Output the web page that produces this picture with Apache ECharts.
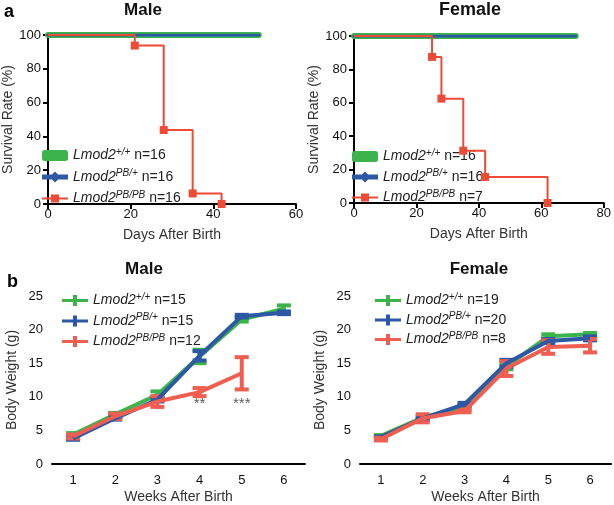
<!DOCTYPE html>
<html>
<head>
<meta charset="utf-8">
<script src="https://cdn.jsdelivr.net/npm/echarts@6/dist/echarts.min.js"></script>
<style>
html,body{margin:0;padding:0;background:#fff;}
#main{width:614px;height:505px;}
</style>
</head>
<body>
<div id="main"></div>
<script>
// survival (days, percent)
var maleDays = [0, 21, 28, 35, 42];
var maleKO = [100, 93.75, 43.75, 6.25, 0];
var maleCtrlEnd = 51;
var femaleDays = [0, 25, 28, 35, 42, 62];
var femaleKO = [100, 87.5, 62.5, 31.3, 15.6, 0];
var femaleCtrlEnd = 71;

// body weight (g), mean and error
var weeks = ['1', '2', '3', '4', '5', '6'];
var mWT = [4.4, 7.4, 10.3, 16.0, 21.5, 23.1];
var mWTerr = [0.2, 0.2, 0.5, 1.0, 0.3, 0.5];
var mHet = [3.8, 6.8, 9.6, 16.1, 22.0, 22.5];
var mHetErr = [0.2, 0.2, 0.3, 0.7, 0.2, 0.2];
var mKO = [4.1, 7.1, 9.3, 10.7, 13.5];
var mKOerr = [0.3, 0.4, 0.8, 0.6, 2.4];
var fWT = [4.2, 6.9, 8.6, 14.5, 19.0, 19.3];
var fWTerr = [0.1, 0.2, 0.2, 0.4, 0.3, 0.2];
var fHet = [4.0, 6.8, 8.9, 15.0, 18.3, 18.7];
var fHetErr = [0.1, 0.2, 0.2, 0.5, 0.3, 0.3];
var fKO = [3.7, 6.8, 7.9, 14.2, 17.4, 17.6];
var fKOerr = [0.2, 0.6, 0.2, 1.1, 1.0, 1.0];

var stars = [{week: 3, y: 8.9, text: '**'}, {week: 4, y: 8.9, text: '***'}];

var GREEN = '#3cb44b', BLUE = '#2c58a5', RED = '#ee4b36', RED2 = '#ef5e51';
var FONT = 'Liberation Sans';

var labels = {
  aM1: ['+/+', '16'], aM2: ['PB/+', '16'], aM3: ['PB/PB', '16'],
  aF1: ['+/+', '16'], aF2: ['PB/+', '16'], aF3: ['PB/PB', '7'],
  bM1: ['+/+', '15'], bM2: ['PB/+', '15'], bM3: ['PB/PB', '12'],
  bF1: ['+/+', '19'], bF2: ['PB/+', '20'], bF3: ['PB/PB', '8']
};

var iconCross = 'path://M0,4H11V0H15V4H26V7H15V11H11V7H0Z';
var iconTri = 'path://M0,3H10L13,0L16,3H26V8H16L13,11L10,8H0Z';
var iconSq = 'path://M0,4.5H9V1.5H17V4.5H26V6.5H17V9.5H9V6.5H0Z';

function legendFor(prefix, left, top, gap, survival) {
  return {
    orient: 'vertical', left: left, top: top, itemGap: gap,
    itemWidth: 26, itemHeight: 11, selectedMode: false, padding: 0,
    data: [
      {name: prefix + '1', icon: survival ? 'roundRect' : iconCross, itemStyle: {color: GREEN}},
      {name: prefix + '2', icon: survival ? iconTri : iconCross, itemStyle: {color: BLUE}},
      {name: prefix + '3', icon: survival ? iconSq : iconCross, itemStyle: {color: survival ? RED : RED2}}
    ],
    formatter: function (n) {
      return '{i|Lmod2}{s|' + labels[n][0] + '}{n| n=' + labels[n][1] + '}';
    },
    textStyle: {
      color: '#222', fontFamily: FONT, fontSize: 14,
      rich: {
        i: {fontStyle: 'italic', fontSize: 14, lineHeight: 16, fontFamily: FONT, color: '#222'},
        s: {fontStyle: 'italic', fontSize: 10, fontFamily: FONT, color: '#222', padding: [0, 0, 7, 0]},
        n: {fontSize: 14, lineHeight: 16, fontFamily: FONT, color: '#222'}
      }
    }
  };
}

function axisBase(extra, margin) {
  var a = {
    axisLine: {lineStyle: {color: '#000', width: 2}},
    axisTick: {length: 5, lineStyle: {color: '#000', width: 2}},
    axisLabel: {color: '#111', fontSize: 13, fontFamily: FONT, margin: margin},
    splitLine: {show: false},
    nameLocation: 'middle',
    nameTextStyle: {color: '#333', fontSize: 14, fontFamily: FONT}
  };
  for (var k in extra) a[k] = extra[k];
  return a;
}

function pairs(xs, ys) { return xs.map(function (x, i) { return [x, ys[i]]; }); }

function ebData(m, e) { return m.map(function (v, i) { return [i, v, e[i]]; }); }

function errSeries(name, idx, m, e, color) {
  return {
    name: name, type: 'custom', xAxisIndex: idx, yAxisIndex: idx, z: 3,
    data: ebData(m, e),
    renderItem: function (params, api) {
      var x = api.value(0), v = api.value(1), er = api.value(2);
      var hi = api.coord([x, v + er]), lo = api.coord([x, v - er]);
      var w = 7;
      var st = {stroke: color, lineWidth: 4, fill: null};
      return {type: 'group', children: [
        {type: 'line', shape: {x1: hi[0], y1: hi[1], x2: lo[0], y2: lo[1]}, style: st},
        {type: 'line', shape: {x1: hi[0] - w, y1: hi[1], x2: hi[0] + w, y2: hi[1]}, style: st},
        {type: 'line', shape: {x1: lo[0] - w, y1: lo[1], x2: lo[0] + w, y2: lo[1]}, style: st}
      ]};
    }
  };
}

function lineSeries(name, idx, m, color, z) {
  return {name: name, type: 'line', xAxisIndex: idx, yAxisIndex: idx, data: m, z: z,
    symbol: 'none', lineStyle: {color: color, width: 4}, itemStyle: {color: color}};
}

function survKO(name, idx, xs, ys) {
  var d = pairs(xs, ys).map(function (p, i) {
    return i === 0 ? {value: p, symbol: 'none'} : {value: p};
  });
  return {name: name, type: 'line', step: 'end', xAxisIndex: idx, yAxisIndex: idx, data: d, z: 4,
    symbol: 'rect', symbolSize: 8, lineStyle: {color: RED, width: 2}, itemStyle: {color: RED}};
}

function survCtrl(name, idx, end, color, width, z) {
  return {name: name, type: 'line', xAxisIndex: idx, yAxisIndex: idx, data: [[0, 100], [end, 100]], z: z,
    symbol: 'none', lineStyle: {color: color, width: width, cap: 'round'}, itemStyle: {color: color}};
}

var weekTick = {alignWithLabel: true, length: 7, lineStyle: {color: '#000', width: 2}};

var chart = echarts.init(document.getElementById('main'));
chart.setOption({
  animation: false,
  backgroundColor: '#fff',
  textStyle: {fontFamily: FONT},
  grid: [
    {left: 44, top: 35, width: 252, height: 169},
    {left: 354, top: 36, width: 251, height: 167},
    {left: 52, top: 296, width: 253, height: 170},
    {left: 360, top: 296, width: 251, height: 169}
  ],
  xAxis: [
    axisBase({gridIndex: 0, type: 'value', min: 0, max: 60, interval: 20, name: 'Days After Birth', nameGap: 24}, 4),
    axisBase({gridIndex: 1, type: 'value', min: 0, max: 80, interval: 20, name: 'Days After Birth', nameGap: 24}, 4),
    axisBase({gridIndex: 2, type: 'category', data: weeks, boundaryGap: true, name: 'Weeks After Birth', nameGap: 26, axisTick: weekTick}, 10),
    axisBase({gridIndex: 3, type: 'category', data: weeks, boundaryGap: true, name: 'Weeks After Birth', nameGap: 26, axisTick: weekTick}, 10)
  ],
  yAxis: [
    axisBase({gridIndex: 0, type: 'value', min: 0, max: 100, interval: 20, name: 'Survival Rate (%)', nameGap: 33}, 7),
    axisBase({gridIndex: 1, type: 'value', min: 0, max: 100, interval: 20, name: 'Survival Rate (%)', nameGap: 33}, 7),
    axisBase({gridIndex: 2, type: 'value', min: 0, max: 25, interval: 5, name: 'Body Weight (g)', nameGap: 33}, 9),
    axisBase({gridIndex: 3, type: 'value', min: 0, max: 25, interval: 5, name: 'Body Weight (g)', nameGap: 33}, 9)
  ],
  legend: [
    legendFor('aM', 42, 147, 6, true),
    legendFor('aF', 352, 148, 5, true),
    legendFor('bM', 62, 292, 5, false),
    legendFor('bF', 375, 292, 4, false)
  ],
  graphic: [
    {type: 'text', x: 4, y: 3, style: {text: 'a', fill: '#000', font: 'bold 18px ' + FONT}},
    {type: 'text', x: 7, y: 273, style: {text: 'b', fill: '#000', font: 'bold 18px ' + FONT}},
    {type: 'text', x: 143, y: 10, style: {text: 'Male', fill: '#111', font: 'bold 17px ' + FONT, align: 'center', verticalAlign: 'middle'}},
    {type: 'text', x: 470, y: 10, style: {text: 'Female', fill: '#111', font: 'bold 18px ' + FONT, align: 'center', verticalAlign: 'middle'}},
    {type: 'text', x: 144, y: 269, style: {text: 'Male', fill: '#111', font: 'bold 17px ' + FONT, align: 'center', verticalAlign: 'middle'}},
    {type: 'text', x: 479, y: 269, style: {text: 'Female', fill: '#111', font: 'bold 17px ' + FONT, align: 'center', verticalAlign: 'middle'}}
  ],
  series: [
    survCtrl('aM1', 0, maleCtrlEnd, GREEN, 6, 2),
    survCtrl('aM2', 0, maleCtrlEnd, BLUE, 3, 3),
    survKO('aM3', 0, maleDays, maleKO),
    survCtrl('aF1', 1, femaleCtrlEnd, GREEN, 6, 2),
    survCtrl('aF2', 1, femaleCtrlEnd, BLUE, 3, 3),
    survKO('aF3', 1, femaleDays, femaleKO),

    lineSeries('bM1', 2, mWT, GREEN, 2), errSeries('bM1', 2, mWT, mWTerr, GREEN),
    lineSeries('bM2', 2, mHet, BLUE, 3), errSeries('bM2', 2, mHet, mHetErr, BLUE),
    lineSeries('bM3', 2, mKO, RED2, 4), errSeries('bM3', 2, mKO, mKOerr, RED2),
    lineSeries('bF1', 3, fWT, GREEN, 2), errSeries('bF1', 3, fWT, fWTerr, GREEN),
    lineSeries('bF2', 3, fHet, BLUE, 3), errSeries('bF2', 3, fHet, fHetErr, BLUE),
    lineSeries('bF3', 3, fKO, RED2, 4), errSeries('bF3', 3, fKO, fKOerr, RED2),

    {name: 'stars', type: 'scatter', xAxisIndex: 2, yAxisIndex: 2, symbolSize: 0, z: 5,
      data: stars.map(function (s) { return {value: [s.week, s.y], label: {formatter: s.text}}; }),
      label: {show: true, position: 'inside', color: '#333', fontSize: 15, fontFamily: FONT}}
  ]
});
</script>
</body>
</html>
